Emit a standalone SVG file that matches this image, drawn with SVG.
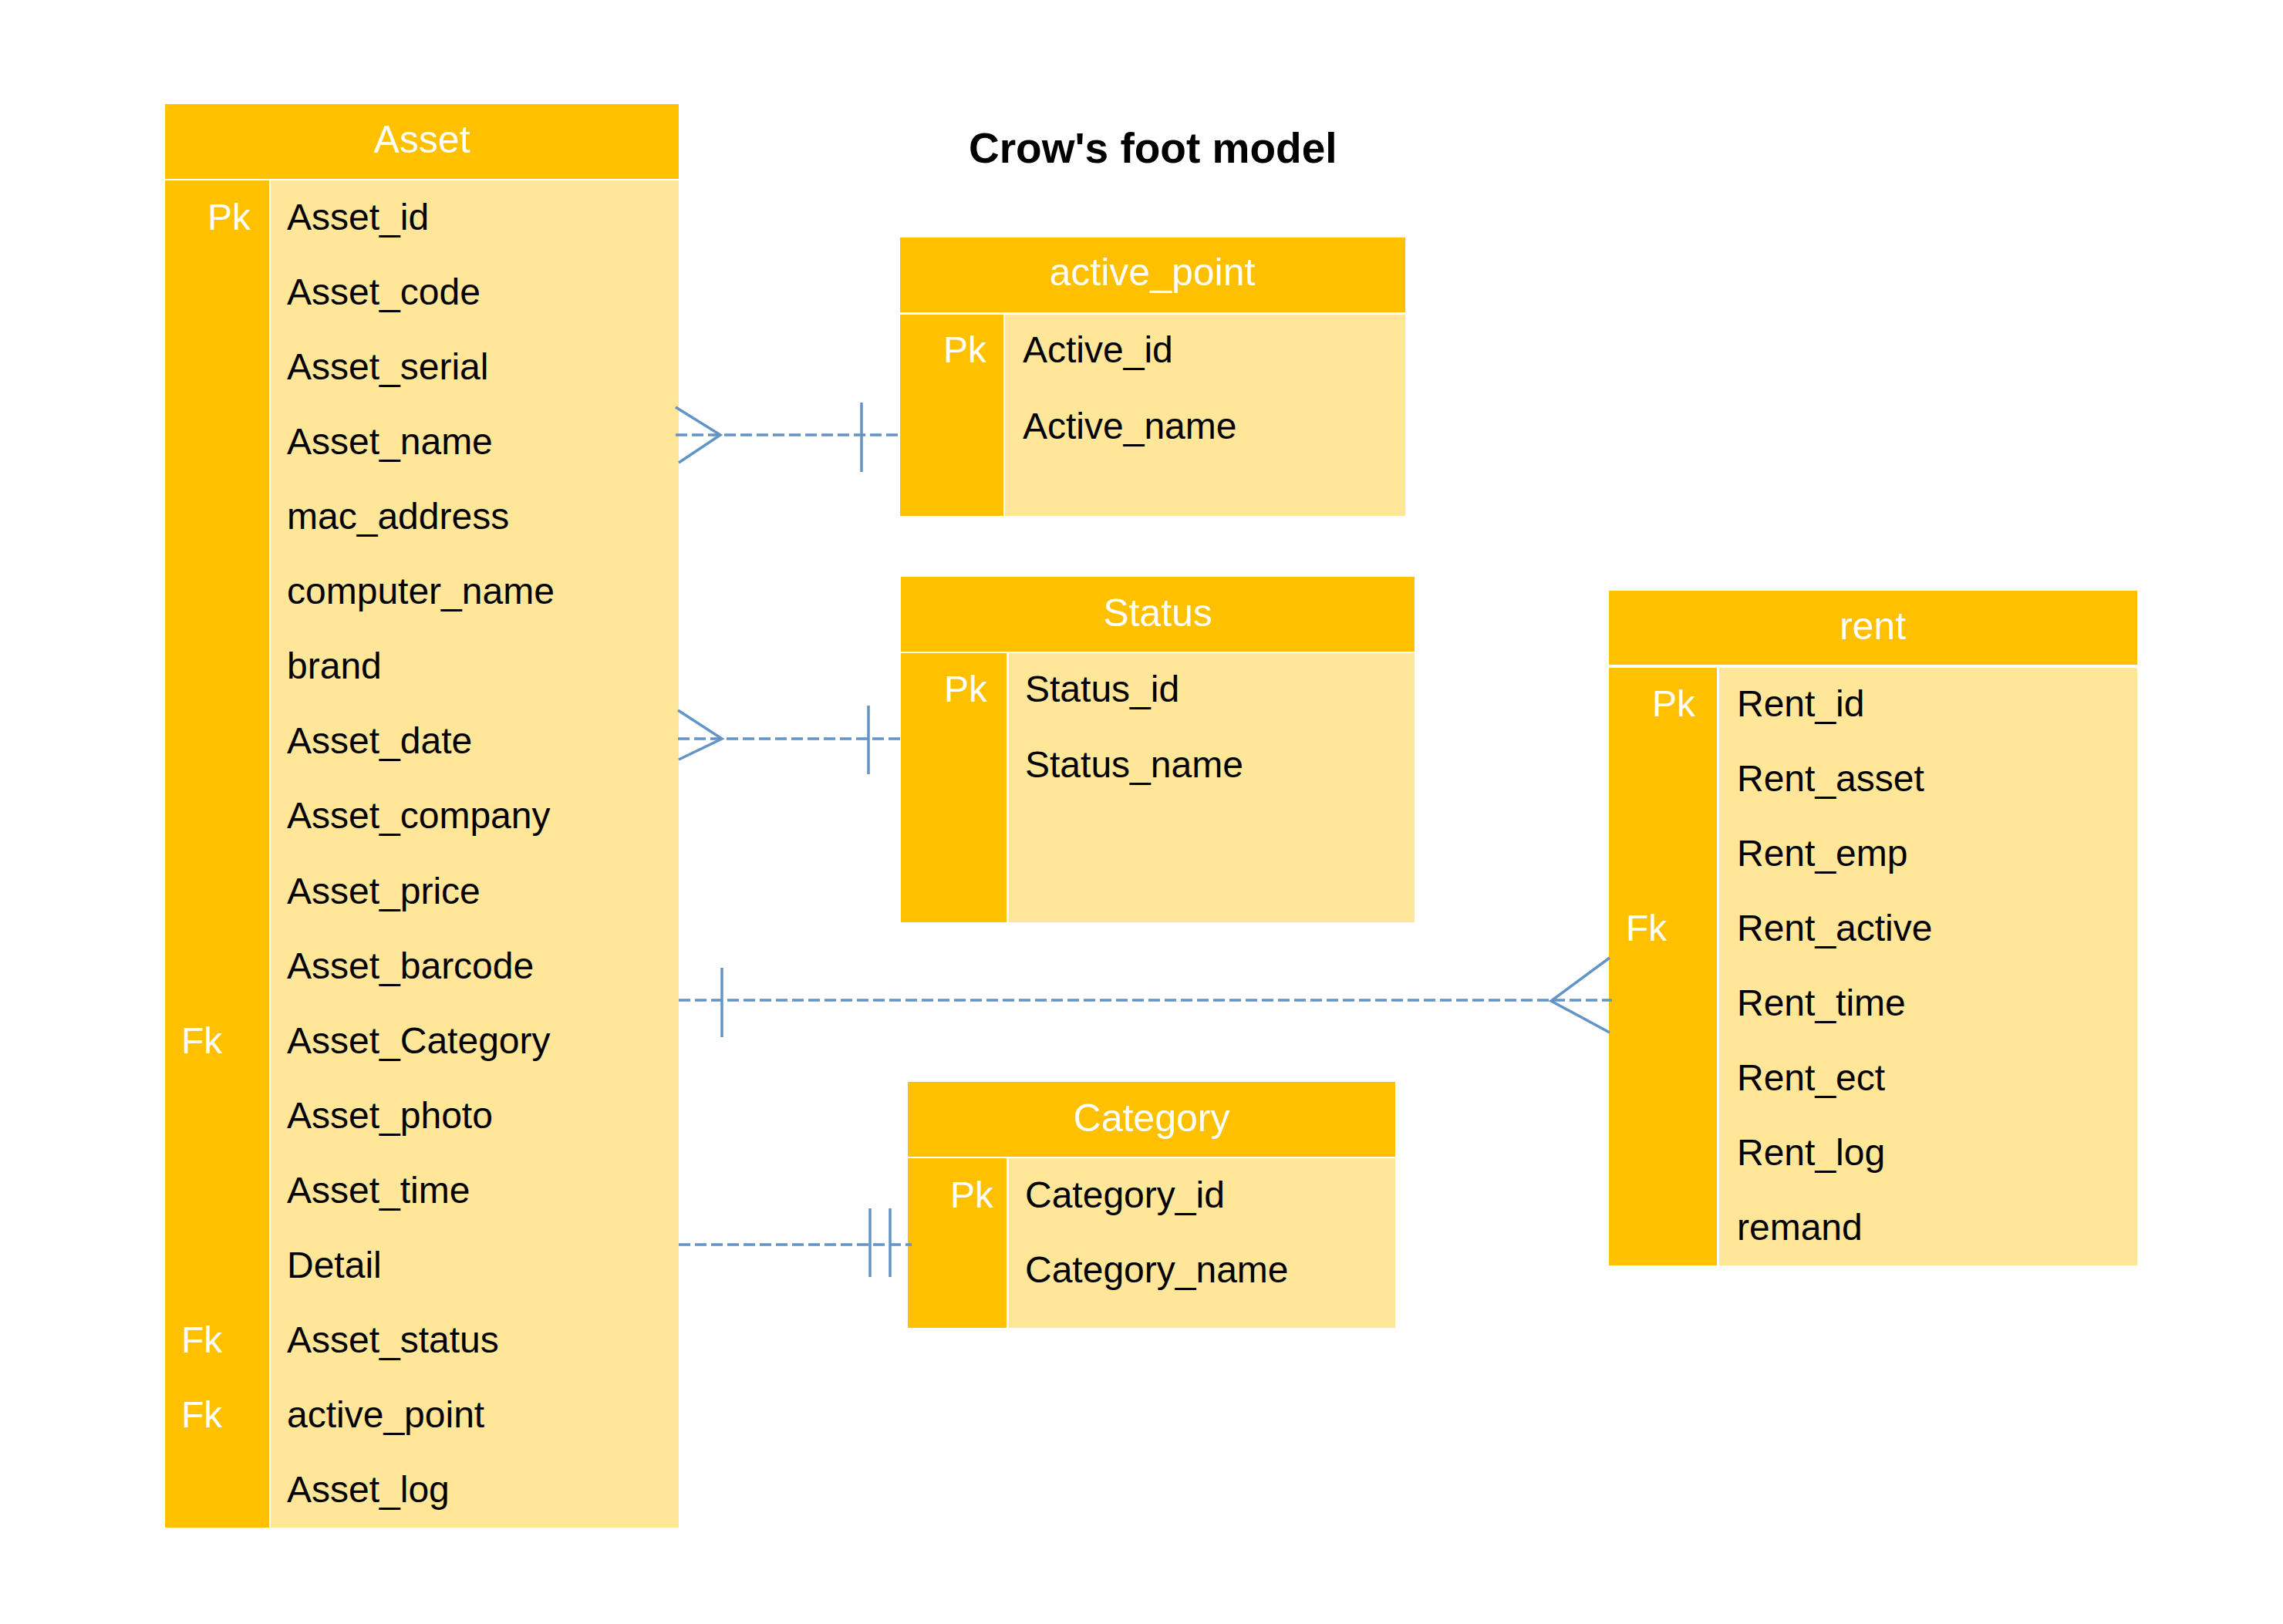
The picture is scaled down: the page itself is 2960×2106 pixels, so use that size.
<svg xmlns="http://www.w3.org/2000/svg" width="2960" height="2106" viewBox="0 0 2960 2106">
<style>
.hd{fill:#FFC000}
.bd{fill:#FFE699}
.ht{font-family:"Liberation Sans",Arial,sans-serif;font-size:50px;fill:#FFFFFF;text-anchor:middle}
.ft{font-family:"Liberation Sans",Arial,sans-serif;font-size:48px;fill:#000000}
.kt{font-family:"Liberation Sans",Arial,sans-serif;font-size:48px;fill:#FFFFFF}
.title{font-family:"Liberation Sans",Arial,sans-serif;font-size:55px;font-weight:bold;fill:#000000}
.dash{stroke:#6494C5;stroke-width:3.5;stroke-dasharray:15 6;fill:none}
.sol{stroke:#6494C5;stroke-width:3.5;fill:none}
</style>
<rect width="2960" height="2106" fill="#FFFFFF"/>
<text class="title" x="1256" y="211">Crow's foot model</text>

<g id="asset">
<rect class="hd" x="214" y="135" width="666" height="97"/>
<rect class="hd" x="214" y="234" width="135" height="1747"/>
<rect class="bd" x="351" y="234" width="529" height="1747"/>
<text class="ht" x="547" y="198">Asset</text>
<text class="kt" x="269" y="298">Pk</text>
<text class="kt" x="235" y="1366">Fk</text>
<text class="kt" x="235" y="1754">Fk</text>
<text class="kt" x="235" y="1851">Fk</text>
<text class="ft" x="372" y="298">Asset_id</text>
<text class="ft" x="372" y="395">Asset_code</text>
<text class="ft" x="372" y="492">Asset_serial</text>
<text class="ft" x="372" y="589">Asset_name</text>
<text class="ft" x="372" y="686">mac_address</text>
<text class="ft" x="372" y="783">computer_name</text>
<text class="ft" x="372" y="880">brand</text>
<text class="ft" x="372" y="977">Asset_date</text>
<text class="ft" x="372" y="1074">Asset_company</text>
<text class="ft" x="372" y="1172">Asset_price</text>
<text class="ft" x="372" y="1269">Asset_barcode</text>
<text class="ft" x="372" y="1366">Asset_Category</text>
<text class="ft" x="372" y="1463">Asset_photo</text>
<text class="ft" x="372" y="1560">Asset_time</text>
<text class="ft" x="372" y="1657">Detail</text>
<text class="ft" x="372" y="1754">Asset_status</text>
<text class="ft" x="372" y="1851">active_point</text>
<text class="ft" x="372" y="1948">Asset_log</text>
</g>

<g id="active_point">
<rect class="hd" x="1167" y="308" width="655" height="97"/>
<rect class="hd" x="1167" y="408" width="134" height="261"/>
<rect class="bd" x="1303" y="408" width="519" height="261"/>
<text class="ht" x="1494" y="370">active_point</text>
<text class="kt" x="1223" y="470">Pk</text>
<text class="ft" x="1326" y="470">Active_id</text>
<text class="ft" x="1326" y="569">Active_name</text>
</g>

<g id="status">
<rect class="hd" x="1168" y="748" width="666" height="97"/>
<rect class="hd" x="1168" y="847" width="137" height="349"/>
<rect class="bd" x="1308" y="847" width="526" height="349"/>
<text class="ht" x="1501" y="812">Status</text>
<text class="kt" x="1224" y="910">Pk</text>
<text class="ft" x="1329" y="910">Status_id</text>
<text class="ft" x="1329" y="1008">Status_name</text>
</g>

<g id="category">
<rect class="hd" x="1177" y="1403" width="632" height="97"/>
<rect class="hd" x="1177" y="1502" width="128" height="220"/>
<rect class="bd" x="1308" y="1502" width="501" height="220"/>
<text class="ht" x="1493" y="1467">Category</text>
<text class="kt" x="1232" y="1566">Pk</text>
<text class="ft" x="1329" y="1566">Category_id</text>
<text class="ft" x="1329" y="1663">Category_name</text>
</g>

<g id="rent">
<rect class="hd" x="2086" y="766" width="685" height="96"/>
<rect class="hd" x="2086" y="866" width="140" height="775"/>
<rect class="bd" x="2229" y="866" width="542" height="775"/>
<text class="ht" x="2428" y="829">rent</text>
<text class="kt" x="2142" y="929">Pk</text>
<text class="kt" x="2108" y="1220">Fk</text>
<text class="ft" x="2252" y="929">Rent_id</text>
<text class="ft" x="2252" y="1026">Rent_asset</text>
<text class="ft" x="2252" y="1123">Rent_emp</text>
<text class="ft" x="2252" y="1220">Rent_active</text>
<text class="ft" x="2252" y="1317">Rent_time</text>
<text class="ft" x="2252" y="1414">Rent_ect</text>
<text class="ft" x="2252" y="1511">Rent_log</text>
<text class="ft" x="2252" y="1608">remand</text>
</g>

<g id="connectors">
<line class="dash" x1="876" y1="564" x2="1168" y2="564"/>
<polyline class="sol" points="876,528 934,564 880,600"/>
<line class="sol" x1="1117" y1="522" x2="1117" y2="612"/>

<line class="dash" x1="879" y1="958" x2="1169" y2="958"/>
<polyline class="sol" points="879,921 936,958 880,985"/>
<line class="sol" x1="1126" y1="915" x2="1126" y2="1004"/>

<line class="dash" x1="880" y1="1297" x2="2090" y2="1297"/>
<line class="sol" x1="936" y1="1255" x2="936" y2="1345"/>
<polyline class="sol" points="2087,1242 2011,1298 2087,1339"/>

<line class="dash" x1="880" y1="1614" x2="1182" y2="1614"/>
<line class="sol" x1="1128" y1="1567" x2="1128" y2="1656"/>
<line class="sol" x1="1154" y1="1567" x2="1154" y2="1656"/>
</g>
</svg>
